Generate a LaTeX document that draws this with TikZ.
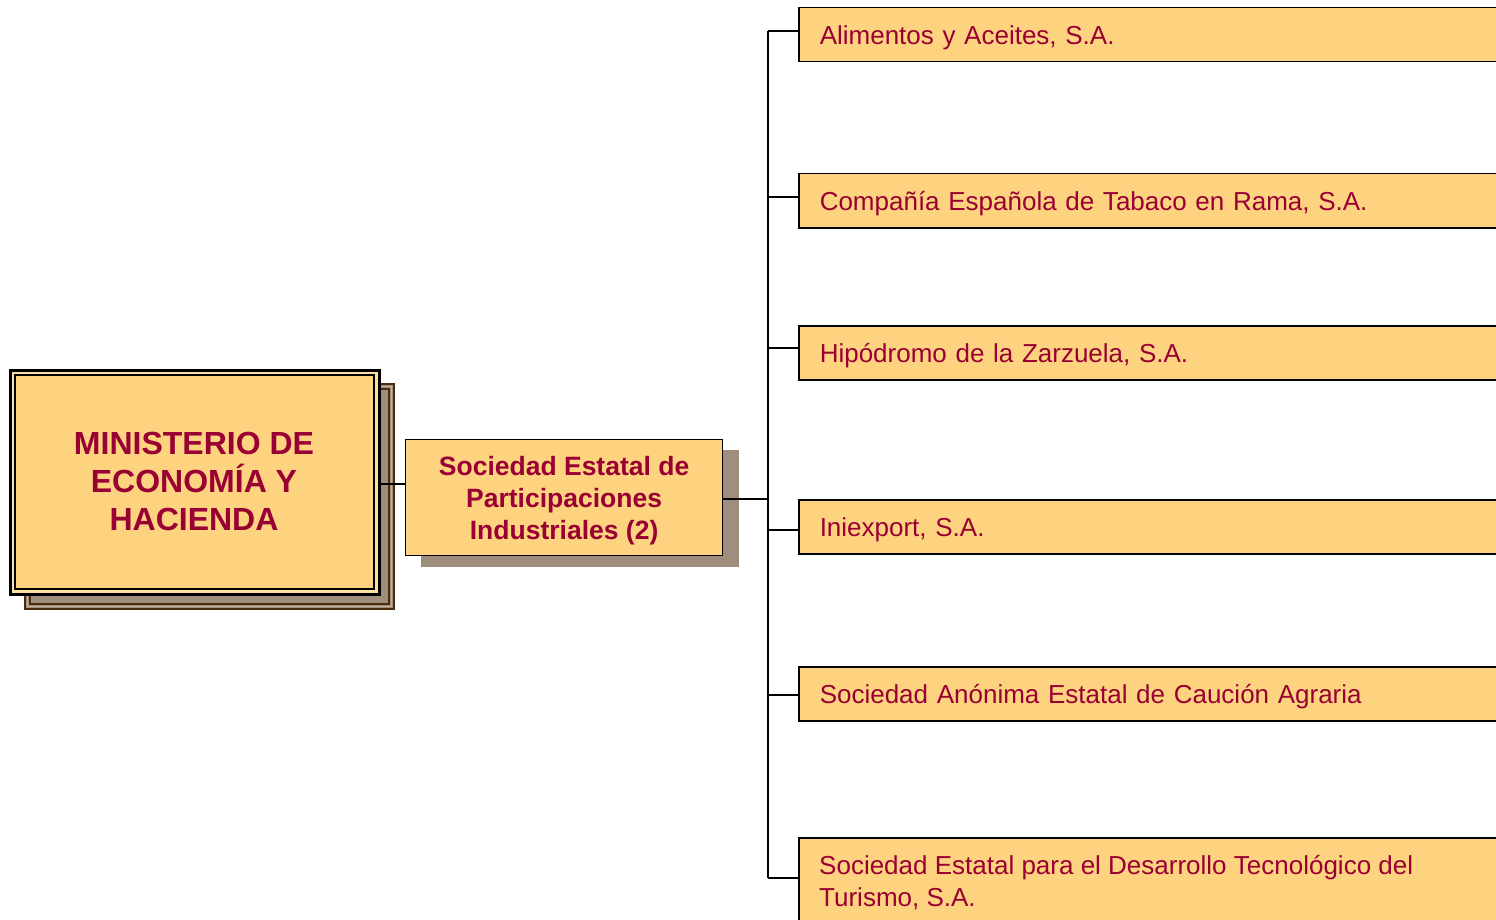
\documentclass[tikz,border=0pt]{standalone}
\usepackage{fontspec}
\setmainfont{Liberation Sans}
\definecolor{boxfill}{HTML}{FED37F}
\definecolor{txtred}{HTML}{990033}
\definecolor{shadowfill}{HTML}{A08E7C}
\definecolor{shadowline}{HTML}{4A2C0C}
\definecolor{shadowpale}{HTML}{C8B090}
\tikzset{
  compbox/.style={draw=black, line width=1.5pt, fill=boxfill, anchor=north west,
    minimum width=720pt, minimum height=54pt, inner xsep=21pt, inner ysep=0pt, text=txtred,
    font=\fontsize{26}{32}\selectfont, align=left, text width=678pt,
    text height=22pt, text depth=2pt},
  conn/.style={draw=black, line width=1.5pt},
}
\begin{document}
\begin{tikzpicture}[x=1pt,y=-1pt]
\clip (0,0) rectangle (1496,920);
\fill[white] (0,0) rectangle (1496,920);
% ministry shadow
\draw[fill=shadowfill, draw=shadowline, line width=2.5pt] (25,384) rectangle (394,609);
\draw[draw=shadowpale, line width=1pt] (27.5,386.5) rectangle (391.5,606.5);
\draw[draw=shadowline, line width=2pt] (30,389) rectangle (389,604);
% ministry box
\node[draw=black, line width=3pt, fill=boxfill!70!white, anchor=north west, minimum width=369pt, minimum height=224pt, inner sep=0pt] (min) at (8.5,368.5) {};
\node[draw=black, line width=2pt, fill=boxfill, anchor=north west, minimum width=359pt, minimum height=214pt, inner sep=0pt, text=txtred, align=center, font=\bfseries\fontsize{32}{38}\selectfont] (mininner) at (13.5,373.5) {MINISTERIO DE\\ECONOMÍA Y\\HACIENDA};
% SEPI box
\fill[shadowfill] (421,450) rectangle (739,567);
\node[draw=black, line width=1.2pt, fill=boxfill, anchor=north west, minimum width=317pt, minimum height=116pt, inner sep=0pt] (sepi) at (405,439) {};
\node[text=txtred, align=center, font=\bfseries\fontsize{26.5}{32}\selectfont, inner sep=0pt] (sepit) at ([yshift=-3pt]sepi.center) {Sociedad Estatal de\\Participaciones\\Industriales (2)};
% company boxes
\node[compbox] (b1) at (798,7) {Alimentos y Aceites, S.A.};
\node[compbox] (b2) at (798,173) {Compañía Española de Tabaco en Rama, S.A.};
\node[compbox] (b3) at (798,325) {Hipódromo de la Zarzuela, S.A.};
\node[compbox] (b4) at (798,499) {Iniexport, S.A.};
\node[compbox] (b5) at (798,666) {Sociedad Anónima Estatal de Caución Agraria};
\node[compbox, minimum height=100pt, text height=, text depth=] (b6) at (798,837) {};
\node[anchor=north west, text=txtred, font=\fontsize{26}{32}\selectfont, align=left, inner sep=0pt] (b6t) at (819,855) {Sociedad Estatal para el Desarrollo Tecnológico del\\Turismo, S.A.};
% connectors
\coordinate (top) at (768,31);
\coordinate (bot) at (768,878);
\draw[conn] (min.east |- 0,484) -- (sepi.west |- 0,484);
\draw[conn] (sepi.east |- 0,499) -- (top |- 0,499);
\draw[conn] (top) -- (bot);
\draw[conn] (top) -- (b1.west |- top);
\draw[conn] (top |- 0,197) -- (b2.west |- 0,197);
\draw[conn] (top |- 0,348) -- (b3.west |- 0,348);
\draw[conn] (top |- 0,530) -- (b4.west |- 0,530);
\draw[conn] (top |- 0,695) -- (b5.west |- 0,695);
\draw[conn] (bot) -- (b6.west |- bot);
\end{tikzpicture}
\end{document}
